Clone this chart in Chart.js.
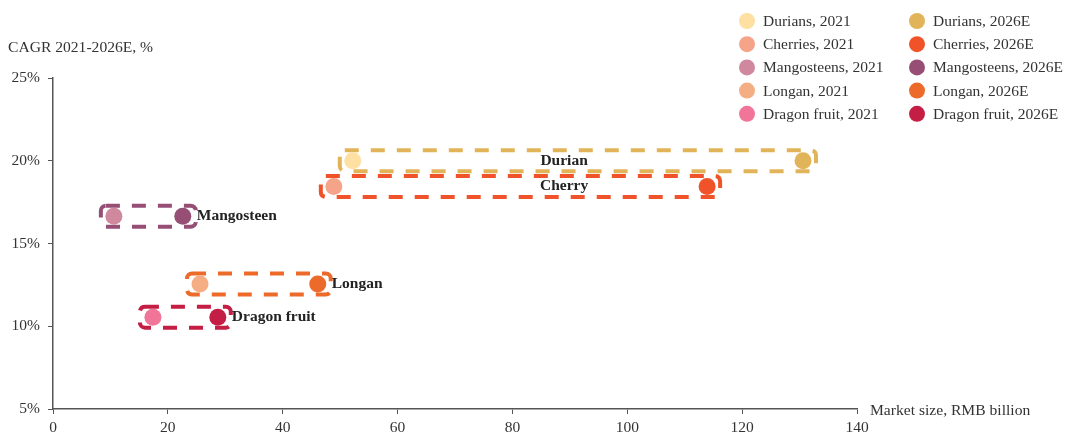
<!DOCTYPE html>
<html>
<head>
<meta charset="utf-8">
<script src="https://cdn.jsdelivr.net/npm/chart.js@4"></script>
<style>
  html, body { margin: 0; padding: 0; background: #fff; }
  #wrap { width: 1068px; height: 433px; position: relative; }
</style>
</head>
<body>
<div id="wrap"><canvas id="chart" width="1068" height="433"></canvas></div>
<script>
const fruits = ["Durian", "Cherry", "Mangosteen", "Longan", "Dragon fruit"];
const legendNames = ["Durians", "Cherries", "Mangosteens", "Longan", "Dragon fruit"];
const size2021 = [52.2, 48.9, 10.6, 25.6, 17.4];
const size2026 = [130.6, 113.9, 22.6, 46.1, 28.7];
const cagr = [20.0, 18.45, 16.65, 12.55, 10.55];
const xTicks = [0, 20, 40, 60, 80, 100, 120, 140];
const yTicks = [5, 10, 15, 20, 25];

const colors2021 = ["#FDE0A2", "#F5A389", "#D0889E", "#F5AE83", "#F07598"];
const colors2026 = ["#E2B45A", "#F0532A", "#964E74", "#EC6A2A", "#C41E44"];

const FONT = "'Liberation Serif', 'Times New Roman', serif";

const datasets = [];
fruits.forEach((f, i) => {
  datasets.push({
    label: legendNames[i] + ", 2021",
    data: [{ x: size2021[i], y: cagr[i] }],
    backgroundColor: colors2021[i],
    borderWidth: 0,
    pointRadius: 8.5,
    pointHoverRadius: 8.5
  });
});
fruits.forEach((f, i) => {
  datasets.push({
    label: legendNames[i] + ", 2026E",
    data: [{ x: size2026[i], y: cagr[i] }],
    backgroundColor: colors2026[i],
    borderWidth: 0,
    pointRadius: 8.5,
    pointHoverRadius: 8.5
  });
});

// dashed boxes around each 2021 -> 2026E pair
const boxes = {
  id: "boxes",
  beforeDatasetsDraw(chart) {
    const { ctx, scales: { x, y } } = chart;
    ctx.save();
    ctx.lineWidth = 4;
    ctx.setLineDash([14, 12]);
    fruits.forEach((f, i) => {
      const x1 = x.getPixelForValue(size2021[i]) - 13;
      const x2 = x.getPixelForValue(size2026[i]) + 13;
      const yc = y.getPixelForValue(cagr[i]);
      ctx.strokeStyle = colors2026[i];
      ctx.beginPath();
      ctx.roundRect(x1, yc - 10.5, x2 - x1, 21, 5);
      ctx.stroke();
    });
    ctx.restore();
  }
};

// fruit names, legend and axis titles
const texts = {
  id: "texts",
  afterDraw(chart) {
    const { ctx, scales: { x, y } } = chart;
    ctx.save();
    ctx.font = "bold 15.5px " + FONT;
    ctx.fillStyle = "#222";
    ctx.textBaseline = "middle";
    fruits.forEach((f, i) => {
      const yc = y.getPixelForValue(cagr[i]);
      if (i < 2) {
        ctx.textAlign = "center";
        ctx.fillText(f, x.getPixelForValue(89), yc);
      } else {
        ctx.textAlign = "left";
        ctx.fillText(f, x.getPixelForValue(size2026[i]) + 14, yc);
      }
    });

    ctx.font = "15.6px " + FONT;
    ctx.fillStyle = "#333";
    ctx.textAlign = "left";
    ctx.fillText("CAGR 2021-2026E, %", 8, 48);
    ctx.fillText("Market size, RMB billion", 870, 411);

    ctx.font = "15.5px " + FONT;
    const cols = [747, 917];
    fruits.forEach((f, i) => {
      const yy = 21 + i * 23.2;
      [colors2021, colors2026].forEach((c, j) => {
        ctx.fillStyle = c[i];
        ctx.beginPath();
        ctx.arc(cols[j], yy, 8, 0, Math.PI * 2);
        ctx.fill();
        ctx.fillStyle = "#333";
        ctx.fillText(legendNames[i] + (j ? ", 2026E" : ", 2021"), cols[j] + 16, yy + 1);
      });
    });
    ctx.restore();
  }
};

new Chart(document.getElementById("chart"), {
  type: "scatter",
  data: { datasets },
  plugins: [boxes, texts],
  options: {
    responsive: false,
    animation: false,
    layout: { padding: { top: 78, right: 211, left: 0, bottom: 0 } },
    plugins: { legend: { display: false }, tooltip: { enabled: false } },
    scales: {
      x: {
        min: 0, max: 140,
        afterBuildTicks: s => { s.ticks = xTicks.map(v => ({ value: v })); },
        afterFit: s => { s.height = 24; },
        grid: { drawOnChartArea: false, drawTicks: true, tickLength: 5, color: "#555" },
        border: { color: "#555", width: 1.5 },
        ticks: { color: "#333", padding: 5, font: { family: FONT, size: 15.5 } }
      },
      y: {
        min: 5, max: 25,
        afterBuildTicks: s => { s.ticks = yTicks.map(v => ({ value: v })); },
        afterFit: s => { s.width = 53; },
        grid: { drawOnChartArea: false, drawTicks: true, tickLength: 5, color: "#555" },
        border: { color: "#555", width: 1.5 },
        ticks: { color: "#333", padding: 8, font: { family: FONT, size: 15.5 }, callback: v => v + "%" }
      }
    }
  }
});
</script>
</body>
</html>
